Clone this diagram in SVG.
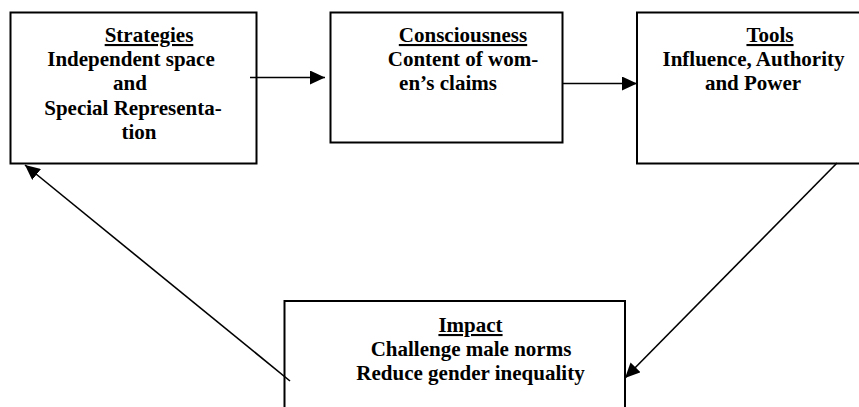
<svg xmlns="http://www.w3.org/2000/svg" width="859" height="407" viewBox="0 0 859 407">
<style>
.box{fill:#fff;stroke:#000;stroke-width:2}
.t{font-family:"Liberation Serif","Times New Roman",serif;font-weight:bold;font-size:21px;fill:#000;text-anchor:middle}
.u{text-decoration:underline}
.c{stroke:#000;stroke-width:1.6;fill:none}
</style>
<defs>
<marker id="ah" markerUnits="userSpaceOnUse" markerWidth="16" markerHeight="14" refX="15" refY="7" orient="auto">
<path d="M0,0 L15,7 L0,14 Z" fill="#000"/>
</marker>
</defs>
<g id="strategies">
<rect class="box" x="10.5" y="12.5" width="246" height="151"/>
<text class="t u" x="149" y="42">Strategies</text>
<text class="t" x="131" y="66">Independent space</text>
<text class="t" x="130" y="90">and</text>
<text class="t" x="133" y="115">Special Representa-</text>
<text class="t" x="139" y="139">tion</text>
</g>
<g id="consciousness">
<rect class="box" x="330.5" y="12.5" width="232" height="130"/>
<text class="t u" x="463" y="42">Consciousness</text>
<text class="t" x="463" y="66">Content of wom-</text>
<text class="t" x="448" y="90">en’s claims</text>
</g>
<g id="tools">
<rect class="box" x="637" y="12.5" width="240" height="151"/>
<text class="t u" x="770" y="42">Tools</text>
<text class="t" x="753.5" y="66">Influence, Authority</text>
<text class="t" x="753" y="90">and Power</text>
</g>
<g id="impact">
<rect class="box" x="284.5" y="301" width="340.5" height="120"/>
<text class="t u" x="470.5" y="332">Impact</text>
<text class="t" x="471" y="356">Challenge male norms</text>
<text class="t" x="470.5" y="380">Reduce gender inequality</text>
</g>
<g id="connectors">
<line class="c" x1="250" y1="77.5" x2="325" y2="77.5" marker-end="url(#ah)"/>
<line class="c" x1="563" y1="83.5" x2="637" y2="83.5" marker-end="url(#ah)"/>
<line class="c" x1="837" y1="163" x2="625" y2="378" marker-end="url(#ah)"/>
<line class="c" x1="290" y1="381" x2="25" y2="165" marker-end="url(#ah)"/>
</g>
</svg>
